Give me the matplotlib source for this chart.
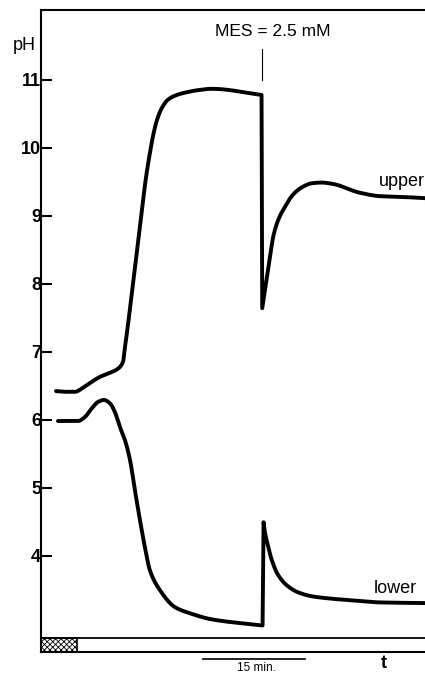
import numpy as np
import matplotlib
matplotlib.use("Agg")
import matplotlib.pyplot as plt
from matplotlib.patches import Rectangle

plt.rcParams['font.family'] = ['Liberation Sans', 'DejaVu Sans']
plt.rcParams['hatch.linewidth'] = 0.6

# time in minutes, pH values
upper_t = [2.21, 3.53, 5.0, 6.18, 7.21, 8.68, 10.15, 11.32, 12.06, 12.35, 12.5, 13.53, 14.41,
           15.44, 16.03, 16.47, 17.06, 17.79, 18.68, 20.0, 21.47, 23.09, 25.15, 32.45,
           32.55, 33.19, 33.68, 34.16, 34.9, 35.88, 37.06, 38.38, 39.85, 41.32, 42.94,
           46.91, 49.85, 52.79, 56.6]
upper_ph = [6.42, 6.41, 6.41, 6.47, 6.54, 6.63, 6.69, 6.75, 6.85, 7.07, 7.17, 8.0, 8.72,
            9.56, 9.93, 10.17, 10.41, 10.59, 10.71, 10.78, 10.82, 10.85, 10.87, 10.78,
            7.64, 8.06, 8.39, 8.69, 8.94, 9.13, 9.31, 9.42, 9.48, 9.49, 9.47,
            9.34, 9.29, 9.28, 9.26]

lower_t = [2.5, 5.44, 6.47, 7.5, 8.38, 9.26, 10.15, 10.88, 11.62, 12.35, 13.09, 13.82, 14.56, 15.29,
           16.03, 17.5, 19.71, 21.91, 25.15, 32.6, 32.75, 32.85, 33.38, 33.97, 34.85, 36.18, 37.79,
           39.85, 42.21, 45.74, 49.85, 56.6]
lower_ph = [5.98, 5.98, 6.04, 6.17, 6.26, 6.29, 6.24, 6.11, 5.89, 5.70, 5.41, 4.96, 4.52, 4.12,
            3.78, 3.49, 3.24, 3.15, 3.06, 2.97, 4.49, 4.40, 4.15, 3.93, 3.72, 3.56, 3.46,
            3.40, 3.37, 3.34, 3.31, 3.30]

yticks = [4, 5, 6, 7, 8, 9, 10, 11]
mes_time = 32.5
mes_label = "MES = 2.5 mM"
dark_period = (0.0, 5.3)


def pchip(x, y, n=16):
    x = np.asarray(x, float)
    y = np.asarray(y, float)
    if len(x) < 3:
        return x, y
    h = np.diff(x)
    d = np.diff(y) / h
    m = np.zeros_like(y)
    for k in range(1, len(x) - 1):
        if d[k - 1] * d[k] <= 0:
            m[k] = 0.0
        else:
            w1 = 2 * h[k] + h[k - 1]
            w2 = h[k] + 2 * h[k - 1]
            m[k] = (w1 + w2) / (w1 / d[k - 1] + w2 / d[k])
    m[0] = d[0]
    m[-1] = d[-1]
    xs, ys = [], []
    for k in range(len(x) - 1):
        s = np.linspace(0, 1, n, endpoint=False)
        h00 = 2 * s**3 - 3 * s**2 + 1
        h10 = s**3 - 2 * s**2 + s
        h01 = -2 * s**3 + 3 * s**2
        h11 = s**3 - s**2
        xs.append(x[k] + s * h[k])
        ys.append(h00 * y[k] + h10 * h[k] * m[k] + h01 * y[k + 1] + h11 * h[k] * m[k + 1])
    xs.append([x[-1]])
    ys.append([y[-1]])
    return np.concatenate(xs), np.concatenate(ys)


def smooth_pieces(t, p, breaks):
    # breaks: indices where curve has sharp corners
    out_t, out_p = [], []
    idx = [0] + breaks + [len(t) - 1]
    for a, b in zip(idx[:-1], idx[1:]):
        seg_t, seg_p = t[a:b + 1], p[a:b + 1]
        if b - a >= 2:
            st, sp = pchip(seg_t, seg_p)
        else:
            st, sp = np.asarray(seg_t, float), np.asarray(seg_p, float)
        out_t.append(st)
        out_p.append(sp)
    return np.concatenate(out_t), np.concatenate(out_p)


fig = plt.figure(figsize=(4.25, 6.75), dpi=100)
ax = fig.add_axes([41/425, 1 - 652/675, 1 - 41/425, (652 - 10)/675])
ax.set_xlim(0, 56.5)
ax.set_ylim(2.58, 12.03)

ut, up = smooth_pieces(upper_t, upper_ph, [9, 23, 24])
lt, lp = smooth_pieces(lower_t, lower_ph, [19, 20])
ax.plot(ut, up, color='black', lw=2.8, solid_capstyle='round', solid_joinstyle='round')
ax.plot(lt, lp, color='black', lw=2.8, solid_capstyle='round', solid_joinstyle='round')

for s in ['right', 'bottom']:
    ax.spines[s].set_visible(False)
for s in ['left', 'top']:
    ax.spines[s].set_linewidth(1.5)

ax.set_yticks(yticks)
ax.set_yticklabels([str(v) for v in yticks], fontsize=13, fontweight='bold')
ax.tick_params(axis='y', direction='in', length=8, width=1.5, pad=0)
ax.set_xticks([])

# bar at bottom
bar_lo, bar_hi = 2.58, 2.78
ax.plot([0, 56.5], [bar_hi, bar_hi], color='black', lw=1.3, clip_on=False)
ax.plot([0, 56.5], [bar_lo + 0.005, bar_lo + 0.005], color='black', lw=1.5, clip_on=False)
ax.add_patch(Rectangle((dark_period[0], bar_lo), dark_period[1] - dark_period[0], bar_hi - bar_lo,
                       facecolor='white', edgecolor='black', hatch='xxxxxx', lw=1.2, clip_on=False))

# MES marker
ax.plot([mes_time, mes_time], [11.45, 11.0], color='black', lw=0.8)
ax.text(mes_time + 1.6, 11.72, mes_label, ha='center', va='center', fontsize=12.5)

ax.text(1.0, 9.5, "upper", transform=ax.get_yaxis_transform(), ha='right', va='center', fontsize=13)
ax.text(55.3, 3.52, "lower", ha='right', va='center', fontsize=13)

fig.text(24/425, 1 - 45/675, "pH", ha='center', va='center', fontsize=13)
# scale bar below the axes
fig.add_artist(plt.Line2D([203/425, 305/425], [1 - 659/675, 1 - 659/675], color='black', lw=1.2))
fig.text(256/425, 1 - 668/675, "15 min.", ha='center', va='center', fontsize=8.5)
fig.text(384/425, 1 - 664/675, "t", ha='center', va='center', fontsize=13, fontweight='bold')

fig.savefig("out.png", dpi=100)
